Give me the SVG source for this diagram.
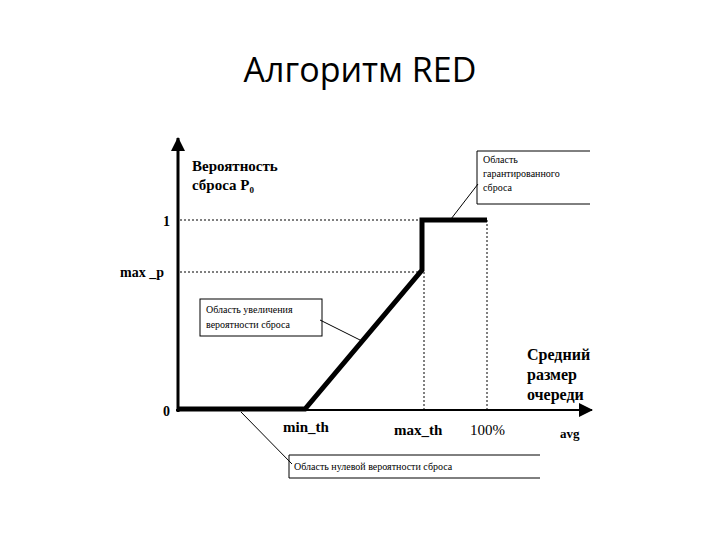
<svg xmlns="http://www.w3.org/2000/svg" width="720" height="540" viewBox="0 0 720 540">
<style>
.s{font-family:"Liberation Serif",serif;font-weight:bold;fill:#000}
.b{font-family:"Liberation Serif",serif;font-size:10px;fill:#000}
.d{stroke:#000;stroke-width:1;stroke-dasharray:2,2;fill:none}
.l{stroke:#000;stroke-width:1;fill:none}
</style>
<defs><marker id="a" markerWidth="8" markerHeight="8" refX="7" refY="4" orient="auto" markerUnits="userSpaceOnUse"><path d="M0,0L8,4L0,8z" fill="#000"/></marker>
<marker id="a2" markerWidth="14" markerHeight="14" refX="13" refY="7" orient="auto" markerUnits="userSpaceOnUse"><path d="M0,0L14,7L0,14z" fill="#000"/></marker></defs>
<rect width="720" height="540" fill="#fff"/>
<text x="360" y="82" text-anchor="middle" font-family="'Open Sans','Liberation Sans',sans-serif" font-size="34">Алгоритм RED</text>
<g id="axes">
<line x1="178" y1="412" x2="178" y2="138" stroke="#000" stroke-width="3" marker-end="url(#a2)"/>
<line x1="176" y1="410" x2="592" y2="410" stroke="#000" stroke-width="2" marker-end="url(#a2)"/>
</g>
<g id="guides">
<line class="d" x1="180" y1="220" x2="487" y2="220"/>
<line class="d" x1="180" y1="272" x2="422" y2="272"/>
<line class="d" x1="424" y1="272" x2="424" y2="410"/>
<line class="d" x1="487" y1="220" x2="487" y2="410"/>
</g>
<g id="curve"><path d="M178,409H305L422,270V220H487" fill="none" stroke="#000" stroke-width="5"/></g>
<g id="labels">
<text class="s" x="192" y="171" font-size="15">Вероятность</text>
<text class="s" x="192" y="190" font-size="15">сброса P<tspan font-size="9" dy="3">0</tspan></text>
<text class="s" x="163" y="226" font-size="14">1</text>
<text class="s" x="120" y="277" font-size="14">max _p</text>
<text class="s" x="163" y="416" font-size="14">0</text>
<text class="s" x="283" y="432" font-size="15">min_th</text>
<text class="s" x="394" y="435" font-size="15">max_th</text>
<text x="470" y="435" font-size="15" font-family="'Liberation Serif',serif">100%</text>
<text class="s" x="560" y="438" font-size="13">avg</text>
<text class="s" x="527" y="360" font-size="16">Средний</text>
<text class="s" x="527" y="380" font-size="16">размер</text>
<text class="s" x="527" y="400" font-size="16">очереди</text>
</g>
<g id="callout-top">
<path class="l" d="M590,151H477V204H590"/>
<text class="b" x="483" y="163">Область</text>
<text class="b" x="483" y="177">гарантированного</text>
<text class="b" x="483" y="191">сброса</text>
<line class="l" x1="451" y1="219" x2="478" y2="184"/>
</g>
<g id="callout-mid">
<rect class="l" x="200" y="299" width="122" height="37"/>
<text class="b" x="206" y="313">Область увеличения</text>
<text class="b" x="206" y="328">вероятности сброса</text>
<line class="l" x1="320" y1="320" x2="364" y2="342"/>
</g>
<g id="callout-bottom">
<path class="l" d="M540,455H289V478H540"/>
<text class="b" x="294" y="470">Область нулевой вероятности сброса</text>
<line class="l" x1="241" y1="412" x2="292" y2="464"/>
</g>
</svg>
